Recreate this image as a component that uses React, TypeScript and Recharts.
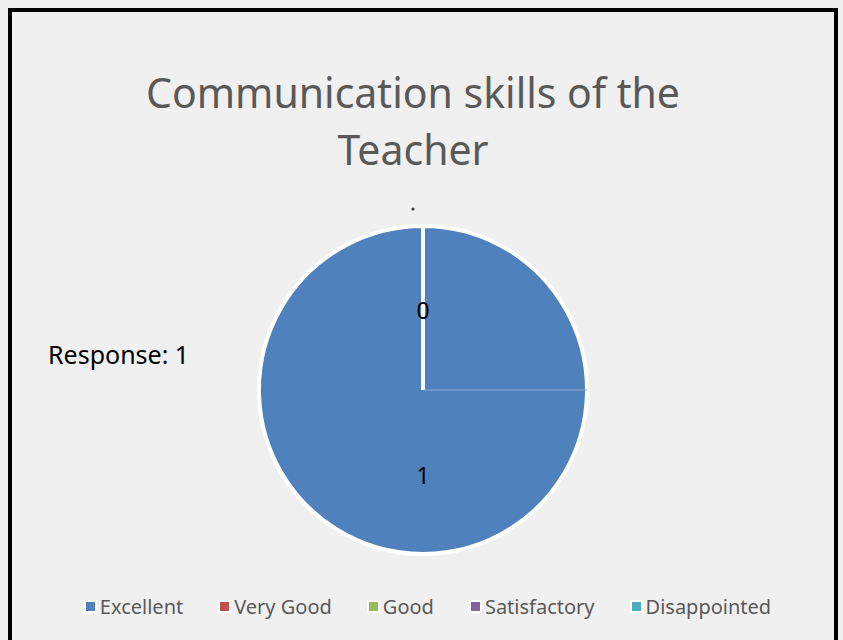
import React from "react";
import { PieChart, Pie, Cell, Legend } from "recharts";

const categories = ["Excellent", "Very Good", "Good", "Satisfactory", "Disappointed"];
const values = [1, 0, 0, 0, 0];
const colors = ["#4F81BD", "#C0504D", "#9BBB59", "#8064A2", "#4BACC6"];
const titleLines = ["Communication skills of the", "Teacher"];
const sideNote = "Response: 1";

const data = categories.map((name, i) => ({ name, value: values[i] }));

const FONT = "'Noto Sans', 'Open Sans', sans-serif";

const renderLabel = (props: any) => {
  const { cx, cy, outerRadius, midAngle, index, value } = props;
  const RAD = Math.PI / 180;
  if (index === 0) {
    const r = outerRadius * 0.52;
    const x = cx + r * Math.cos(-midAngle * RAD);
    const y = cy + r * Math.sin(-midAngle * RAD);
    return (
      <g key={`l${index}`}>
        <line x1={cx} y1={cy} x2={cx + outerRadius} y2={cy} stroke="#8FAAD2" strokeWidth={1} />
        <text x={x} y={y} textAnchor="middle" dominantBaseline="central" fill="#000" fontSize={23} fontFamily={FONT}>
          {value}
        </text>
      </g>
    );
  }
  if (index === 1) {
    const r = outerRadius * 0.49;
    const x = cx + r * Math.cos(-midAngle * RAD);
    const y = cy + r * Math.sin(-midAngle * RAD);
    return (
      <text key={`l${index}`} x={x} y={y} textAnchor="middle" dominantBaseline="central" fill="#000" fontSize={23} fontFamily={FONT}>
        {value}
      </text>
    );
  }
  if (index === 2) {
    const r = outerRadius + 17;
    const x = cx + r * Math.cos(-midAngle * RAD) - 10;
    const y = cy + r * Math.sin(-midAngle * RAD);
    return <circle key={`l${index}`} cx={x} cy={y} r={1.6} fill="#404040" />;
  }
  return null;
};

const renderLegend = () => (
  <div style={{ display: "flex", justifyContent: "center", gap: 35, fontFamily: FONT, fontSize: 20, color: "#595959", paddingLeft: 12 }}>
    {categories.map((c, i) => (
      <div key={c} style={{ display: "flex", alignItems: "center" }}>
        <span style={{ display: "inline-block", width: 9, height: 9, background: colors[i], border: "2px solid #fff", marginRight: 3 }} />
        <span>{c}</span>
      </div>
    ))}
  </div>
);

export default function App() {
  return (
    <div style={{ position: "absolute", left: 0, top: 0, width: 843, height: 640, background: "#F0F0F0", overflow: "hidden" }}>
      <div style={{ position: "absolute", left: 8, top: 8, width: 822, height: 660, border: "4px solid #000", background: "#F0F0F0" }} />
      <div style={{ position: "absolute", left: 0, top: 64, width: 826, textAlign: "center", fontFamily: FONT, fontSize: 41, lineHeight: "57px", color: "#595959" }}>
        {titleLines.map((t) => (
          <div key={t}>{t}</div>
        ))}
      </div>
      <div style={{ position: "absolute", left: 48, top: 337, fontFamily: FONT, fontSize: 25, color: "#000" }}>{sideNote}</div>
      <div style={{ position: "absolute", left: 0, top: 0 }}>
        <PieChart width={843} height={640} margin={{ top: 0, right: 0, bottom: 0, left: 0 }}>
          <Pie
            data={data}
            dataKey="value"
            nameKey="name"
            cx={423}
            cy={390}
            outerRadius={164}
            startAngle={90}
            endAngle={-270}
            stroke="#FFFFFF"
            strokeWidth={4}
            isAnimationActive={false}
            label={renderLabel}
            labelLine={false}
          >
            {data.map((d, i) => (
              <Cell key={d.name} fill={colors[i]} />
            ))}
          </Pie>
          <Legend verticalAlign="bottom" content={renderLegend} wrapperStyle={{ bottom: 20 }} />
        </PieChart>
      </div>
    </div>
  );
}
